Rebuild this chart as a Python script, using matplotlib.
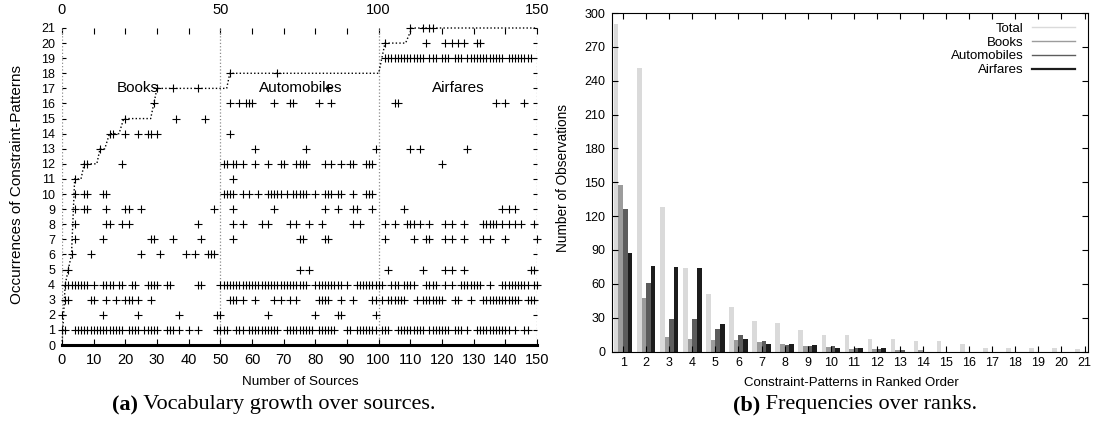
import matplotlib
matplotlib.use("Agg")
import matplotlib.pyplot as plt
from matplotlib.lines import Line2D
import numpy as np

# (a) which source (x) uses which constraint-pattern (row 1..21)
pat01 = [0, 1, 4, 5, 6, 7, 8, 9, 10, 11, 12, 13, 14, 15, 16, 17, 18, 19, 21, 22, 23, 24,
         26, 27, 28, 29, 30, 33, 34, 35, 37, 40, 43, 49, 50,
         51, 52, 55, 56, 57, 59, 60, 61, 62, 63, 64, 65, 66, 67, 68, 71, 72, 73, 74, 75, 76,
         77, 78, 79, 81, 82, 83, 84, 85, 86, 90, 91, 93, 94, 95, 96, 97, 98, 99,
         101, 102, 103, 106, 107, 108, 109, 110, 111, 112, 113, 114, 116, 117, 118, 119, 120,
         121, 122, 124, 125, 126, 128, 131, 132, 133, 134, 135, 136, 137, 138, 139, 140, 141,
         143, 146, 147]
pat02 = [0, 13, 24, 37, 49, 50, 65, 80, 87, 88, 99]
pat03 = [1, 2, 9, 10, 14, 17, 20, 21, 22, 24, 28,
         53, 54, 55, 57, 61, 67, 69, 72, 74, 81, 82, 83, 84, 88, 92, 98, 99,
         101, 103, 104, 105, 106, 107, 108, 112, 114, 115, 116, 117, 118, 119, 120, 124, 125,
         129, 133, 134, 135, 136, 137, 138, 139, 140, 141, 142, 143, 144, 147, 148, 149]
pat04 = [1, 2, 3, 4, 5, 6, 7, 8, 10, 13, 14, 15, 16, 18, 19, 22, 23, 27, 28, 29, 30, 33, 34,
         43, 44, 50,
         51, 52, 53, 54, 55, 56, 57, 58, 59, 60, 61, 62, 63, 64, 65, 66, 67, 68, 69, 70, 71,
         72, 73, 74, 75, 76, 77, 80, 81, 82, 83, 84, 85, 86, 87, 88, 90, 93, 94, 95, 96, 97,
         98, 99, 100,
         101, 104, 105, 106, 108, 109, 110, 111, 115, 116, 117, 118, 121, 123, 126, 127, 128,
         129, 130, 131, 132, 135, 139, 140, 141, 142, 143, 144, 145, 146, 147, 149, 150]
pat05 = [2, 75, 78, 103, 114, 121, 123, 127, 148, 149]
pat06 = [3, 9, 25, 31, 39, 42, 46, 47, 48]
pat07 = [4, 13, 28, 29, 35, 44, 54, 75, 76, 83, 84,
         102, 111, 115, 116, 121, 123, 127, 133, 135, 140, 150]
pat08 = [4, 14, 15, 19, 21, 43, 54, 57, 63, 65, 72, 74, 78, 82, 92, 94,
         102, 105, 109, 110, 111, 113, 116, 121, 123, 127, 133, 134, 135, 136, 137, 139, 141,
         143, 145, 149]
pat09 = [4, 7, 8, 14, 20, 21, 25, 48, 54, 67, 83, 87, 92, 93, 98, 108, 139, 141, 143]
pat10 = [4, 7, 8, 13, 14, 51, 52, 53, 54, 57, 59, 62, 65, 66, 67, 68, 69, 71, 73, 74, 75,
         76, 77, 80, 83, 84, 85, 87, 88, 92, 96, 97, 98]
pat11 = [4, 54]
pat12 = [7, 8, 19, 51, 52, 54, 55, 57, 61, 65, 69, 70, 74, 75, 76, 77, 83, 85, 88, 91, 92,
         96, 97, 98, 120]
pat13 = [12, 61, 77, 99, 110, 113, 128]
pat14 = [15, 16, 20, 24, 27, 28, 30, 53]
pat15 = [20, 36, 45]
pat16 = [29, 53, 56, 58, 59, 60, 67, 72, 73, 81, 85, 105, 106, 137, 140, 146]
pat17 = [30, 35, 43, 84]
pat18 = [53, 68]
pat19 = [102, 103, 104, 105, 106, 107, 108, 109, 110, 111, 112, 113, 114, 116, 117, 118,
         120, 121, 122, 124, 125, 126, 128, 129, 130, 131, 132, 133, 134, 135, 136, 137, 138,
         139, 141, 142, 143, 144, 145, 146, 147, 148]
pat20 = [102, 115, 121, 123, 125, 127, 131, 132]
pat21 = [110, 114, 116, 117]
pattern_rows = [pat01, pat02, pat03, pat04, pat05, pat06, pat07, pat08, pat09, pat10, pat11,
                pat12, pat13, pat14, pat15, pat16, pat17, pat18, pat19, pat20, pat21]

# vocabulary size as sources are added
vocab_src = [0, 1, 2, 3, 4, 6, 7, 11, 12, 13.5, 15, 18, 19.5, 28, 29, 30, 50, 52, 53,
             100, 101, 102, 108.5, 110.5, 150]
vocab_cnt = [0, 4, 5, 6, 11, 11, 12, 12, 13, 13, 14, 14, 15, 15, 16, 17, 17, 17, 18,
             18, 19, 20, 20, 21, 21]

domain_names = ["Books", "Automobiles", "Airfares"]
domain_bounds = [0, 50, 100, 150]
domain_label_x = [24, 75.5, 125]

# (b) frequencies over ranks
ranks = list(range(1, 22))
freq_total = [290, 251, 128, 74, 51, 39, 27, 25, 19, 15, 15, 11, 11, 9, 9, 7, 3, 3, 3, 3, 2]
freq_books = [148, 47, 13, 11, 10, 10, 8, 7, 5, 4, 2, 2, 1, 1, 0, 0, 0, 0, 0, 0, 0]
freq_autos = [126, 61, 29, 29, 20, 15, 9, 6, 5, 5, 3, 2, 1, 0, 0, 0, 0, 0, 0, 0, 0]
freq_airfares = [87, 76, 75, 74, 24, 11, 7, 7, 6, 3, 3, 3, 0, 0, 0, 0, 0, 0, 0, 0, 0]

plt.rcParams.update({"font.family": ["Liberation Sans", "DejaVu Sans"],
                     "axes.linewidth": 0.8})
W, H = 1093, 426
fig = plt.figure(figsize=(W / 100, H / 100), dpi=100)

# ---------------- left panel ----------------
axL = fig.add_axes([62 / W, 1 - 345 / H, 475 / W, 317 / H])
for b in domain_bounds:
    axL.axvline(b, ls=":", lw=0.9, color="0.55", zorder=1)
for lvl, row in enumerate(pattern_rows, start=1):
    axL.plot(row, [lvl] * len(row), ls="none", marker="+", ms=5.2, mew=0.8,
             color="black", clip_on=False, zorder=3)
axL.plot(vocab_src, vocab_cnt, ls=(0, (1, 1.6)), lw=1.0, color="black",
         clip_on=False, zorder=2)
for name, x in zip(domain_names, domain_label_x):
    axL.text(x, 17, name, ha="center", va="center", fontsize=11, zorder=4)

axL.set_xlim(0, 150)
axL.set_ylim(0, 21)
for s in ["top", "left", "right"]:
    axL.spines[s].set_visible(False)
axL.spines["bottom"].set_linewidth(2.2)
axL.set_xticks(np.arange(0, 151, 10))
axL.set_yticks(np.arange(0, 22))
axL.tick_params(axis="x", direction="in", length=4, width=0.8, pad=6, labelsize=10.5)
axL.tick_params(axis="y", direction="in", length=3, width=0.8, pad=5, labelsize=9,
                left=True, right=True)
top = axL.secondary_xaxis("top")
top_ticks = np.arange(0, 151, 10)
top.set_xticks(top_ticks)
top.set_xticklabels([str(t) if t % 50 == 0 else "" for t in top_ticks])
top.tick_params(direction="in", length=4, width=0.8, pad=8, labelsize=10.5)
top.spines["top"].set_visible(False)

fig.text(17 / W, 1 - 184 / H, "Occurrences of Constraint-Patterns", rotation=90,
         ha="center", va="center", fontsize=11)
fig.text(300 / W, 1 - 382 / H, "Number of Sources", ha="center", va="center", fontsize=9.7)

# ---------------- right panel ----------------
axR = fig.add_axes([612 / W, 1 - 351.5 / H, 476 / W, 338.5 / H])
series = [("Total", freq_total, "#dadada", 1.0),
          ("Books", freq_books, "#9c9c9c", 1.0),
          ("Automobiles", freq_autos, "#5c5c5c", 1.0),
          ("Airfares", freq_airfares, "#1c1c1c", 1.6)]
offsets = [-0.3, -0.1, 0.1, 0.3]
xr = np.array(ranks)
handles = []
for (name, vals, col, lw), off in zip(series, offsets):
    axR.bar(xr + off, vals, width=0.2, color=col, linewidth=0)
    handles.append(Line2D([], [], color=col, lw=lw, label=name))
axR.set_xlim(0.52, 21.15)
axR.set_ylim(0, 300)
axR.set_xticks(ranks)
axR.set_yticks(np.arange(0, 301, 30))
axR.tick_params(direction="in", length=4, width=0.8, top=True, right=True, labelsize=9)
axR.tick_params(axis="x", pad=4)
axR.tick_params(axis="y", pad=5)
axR.legend(handles=handles, loc="upper right", bbox_to_anchor=(0.973, 0.972),
           markerfirst=False, frameon=False, handlelength=3.3, handletextpad=0.6,
           labelspacing=0.12, fontsize=9.5, borderaxespad=0, borderpad=0)

fig.text(563 / W, 1 - 178 / H, "Number of Observations", rotation=90,
         ha="center", va="center", fontsize=9.8)
fig.text(851 / W, 1 - 383 / H, "Constraint-Patterns in Ranked Order",
         ha="center", va="center", fontsize=9.5)

# ---------------- captions ----------------
r = fig.canvas.get_renderer()
for x0, tag, rest in [(112, "(a)", " Vocabulary growth over sources."),
                      (733, "(b)", " Frequencies over ranks.")]:
    t = fig.text(x0 / W, 1 - 405 / H, tag, fontweight="bold", family="Liberation Serif",
                 fontsize=16, ha="left", va="center")
    bb = t.get_window_extent(r)
    fig.text(bb.x1 / fig.bbox.width, 1 - 405 / H, rest, family="Liberation Serif",
             fontsize=16, ha="left", va="center")

fig.savefig("out.png", dpi=100)
